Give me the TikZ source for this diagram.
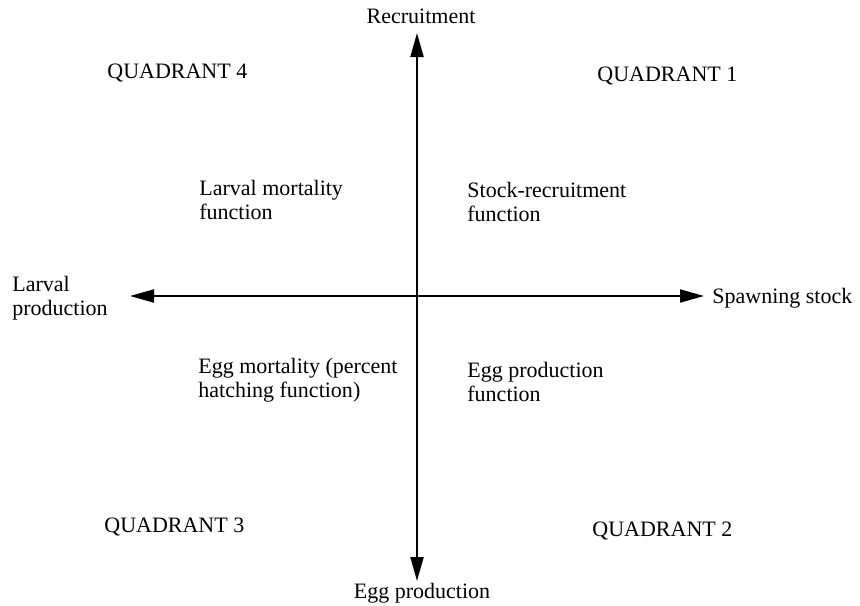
\documentclass[tikz,border=0pt]{standalone}
\usepackage{fontspec}
\setmainfont{Liberation Serif}
\usetikzlibrary{arrows.meta}
\begin{document}
\begin{tikzpicture}[x=0.5pt,y=-0.5pt,
  lbl/.style={inner sep=0pt, font=\fontsize{11}{11.8}\selectfont, align=left},
  axis/.style={line width=1pt, -{Triangle[length=12pt,width=6.5pt]}}]
\useasboundingbox (0,0) rectangle (860,605);
\coordinate (o) at (417,296);
\coordinate (top) at (417,33);
\coordinate (bot) at (417,581);
\coordinate (lft) at (130,296);
\coordinate (rgt) at (704,296);
\draw[axis] (o) -- (top);
\draw[axis] (o) -- (bot);
\draw[axis] (o) -- (lft);
\draw[axis] (o) -- (rgt);
\node[lbl] (rec) at (421,16) {Recruitment};
\node[lbl] (egg) at (422,593) {Egg production};
\node[lbl,anchor=west] (spw) at (712,298) {Spawning stock};
\node[lbl,anchor=west] (lp) at (12,298) {Larval\\production};
\node[lbl,anchor=west] (q4) at (107,73) {QUADRANT 4};
\node[lbl,anchor=west] (q1) at (597,76) {QUADRANT 1};
\node[lbl,anchor=west] (q3) at (104,527) {QUADRANT 3};
\node[lbl,anchor=west] (q2) at (592,531) {QUADRANT 2};
\node[lbl,anchor=west] (lm) at (199,200) {Larval mortality\\function};
\node[lbl,anchor=west] (sr) at (467,202) {Stock-recruitment\\function};
\node[lbl,anchor=west] (em) at (198,380) {Egg mortality (percent\\hatching function)};
\node[lbl,anchor=west] (ep) at (467,382) {Egg production\\function};
\end{tikzpicture}
\end{document}
